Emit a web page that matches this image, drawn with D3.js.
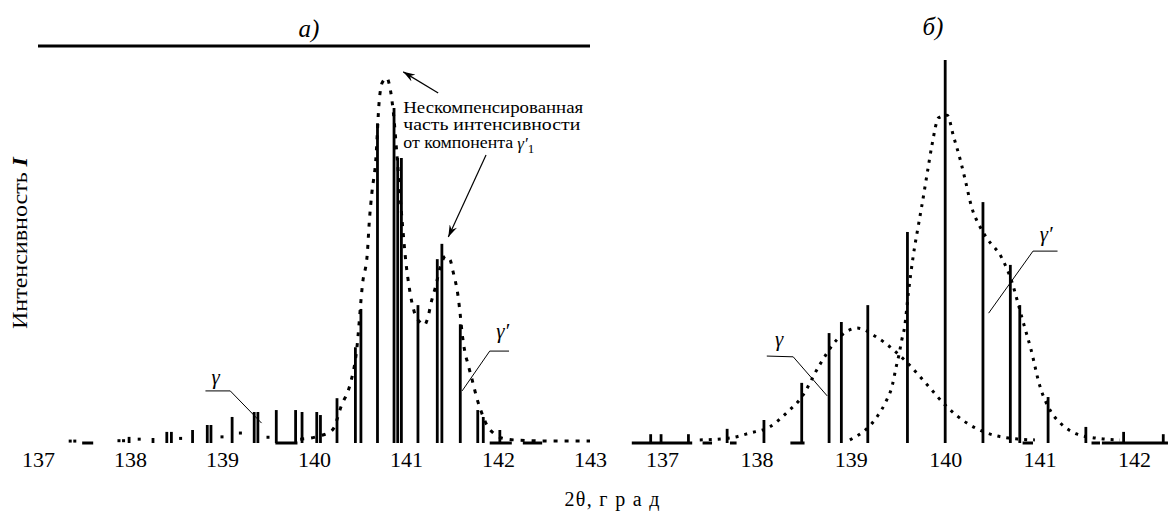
<!DOCTYPE html>
<html>
<head>
<meta charset="utf-8">
<script src="https://cdn.jsdelivr.net/npm/d3@7"></script>
<style>
  body { margin: 0; background: #fff; }
</style>
</head>
<body>
<div id="chart"></div>
<script>
// X-ray profile, two panels: a) and б)

// tick labels
var leftTicks = [137, 138, 139, 140, 141, 142, 143];
var rightTicks = [137, 138, 139, 140, 141, 142];

// panel a) - stick lines [2theta, intensity]
var leftBars = [
  [137.99, 1.6], [138.25, 1.3], [138.40, 2.9], [138.45, 2.9], [138.68, 3.4],
  [138.84, 4.7], [138.88, 4.7], [139.11, 6.8], [139.35, 8.1], [139.39, 8.1],
  [139.59, 8.6], [139.80, 8.6], [139.87, 8.1], [140.03, 8.1], [140.07, 7.3],
  [140.25, 11.7], [140.45, 25], [140.51, 35], [140.69, 83.5], [140.87, 87.5],
  [140.91, 74.4], [140.95, 74.4], [141.13, 36], [141.34, 48], [141.39, 52],
  [141.59, 31], [141.78, 8.6], [141.84, 6.8], [142.02, 3.4]
];

// panel a) - dotted envelope
var leftCurve = [
  [139.85, 1.0],
  [140.02, 1.6], [140.20, 3.4], [140.30, 9.9], [140.39, 15.1], [140.46, 23.5],
  [140.53, 42.0], [140.58, 49.6], [140.60, 57.4], [140.63, 65.5], [140.67, 73.4],
  [140.71, 89.6], [140.74, 94.0], [140.79, 95.3], [140.83, 92.2], [140.86, 86.9],
  [140.91, 72.6], [140.96, 57.4], [141.00, 47.0], [141.04, 39.9], [141.09, 34.2],
  [141.15, 31.6], [141.20, 30.8], [141.23, 32.1], [141.28, 37.3], [141.32, 40.7],
  [141.37, 45.7], [141.43, 48.8], [141.48, 47.8], [141.51, 44.9], [141.57, 37.6],
  [141.59, 33.4], [141.61, 28.7], [141.64, 23.8], [141.67, 20.9], [141.72, 16.4],
  [141.77, 11.7], [141.84, 6.8], [141.89, 4.2], [141.95, 2.6], [142.04, 1.3],
  [142.18, 0.8], [142.60, 0.5], [143.00, 0.5]
];

// panel a) - scattered dots of the low tail [2theta, intensity]
var leftTail = [
  [137.35, 0.5], [137.40, 0.5], [137.88, 0.6], [137.93, 0.6], [138.10, 1.0],
  [138.55, 1.2], [139.00, 1.6], [139.20, 2.6], [139.50, 1.5]
];

// panel a) - baseline pieces [from, to]
var leftBase = [[137.48, 137.60], [139.58, 139.82], [141.91, 142.15], [142.27, 142.48]];

// panel б) - stick lines
var rightBars = [
  [136.88, 2.3], [136.99, 2.3], [137.28, 2.3], [137.69, 3.7], [138.08, 6.0],
  [138.48, 15.7], [138.77, 28.7], [138.90, 31.6], [139.18, 36.0], [139.60, 55.1],
  [140.00, 100], [140.40, 62.9], [140.69, 46.5], [140.79, 36.0], [141.09, 12.0],
  [141.49, 4.2], [141.89, 2.9], [142.31, 2.3]
];

// panel б) - gamma component
var rightGamma = [
  [137.40, 0.8], [137.72, 1.3], [137.93, 2.6], [138.14, 4.2], [138.33, 8.1],
  [138.48, 12.0], [138.67, 20.4], [138.85, 26.9], [139.07, 30.0], [139.27, 27.7],
  [139.43, 24.8], [139.60, 20.9], [139.83, 14.6], [140.02, 9.4], [140.23, 5.2],
  [140.41, 2.9], [140.67, 1.3], [140.95, 0.8]
];

// panel б) - gamma' component
var rightGammaP = [
  [138.99, 0.8], [139.29, 7.3], [139.37, 10.7], [139.44, 15.1], [139.48, 19.8],
  [139.51, 23.0], [139.54, 26.9], [139.57, 30.3], [139.61, 39.2], [139.66, 48.6],
  [139.72, 57.4], [139.75, 61.6], [139.81, 70.5], [139.86, 77.8], [139.93, 84.9],
  [140.02, 85.6], [140.09, 79.9], [140.16, 73.9], [140.21, 68.9], [140.28, 61.6],
  [140.37, 56.4], [140.44, 53.5], [140.60, 48.3], [140.71, 41.8], [140.77, 36.6],
  [140.82, 32.1], [140.91, 24.3], [141.00, 15.1], [141.11, 8.6], [141.22, 5.2],
  [141.40, 2.3], [141.59, 1.3], [141.85, 0.8]
];

var rightBase = [
  [136.68, 137.32], [137.43, 137.53], [137.72, 137.79], [138.36, 138.51],
  [140.82, 140.93], [141.55, 141.64], [141.66, 142.36]
];


var W = 1168, H = 513;
var serif = "'Liberation Serif'";

var svg = d3.select('#chart')
  .append('svg')
  .attr('width', W)
  .attr('height', H);

var y = d3.scaleLinear().domain([0, 100]).range([443, 60]);
var xL = d3.scaleLinear().domain([137, 143]).range([38, 590]);
var xR = d3.scaleLinear().domain([137, 142]).range([662, 1134]);

svg.append('defs').append('marker')
  .attr('id', 'arr')
  .attr('viewBox', '0 0 12 8')
  .attr('refX', 12)
  .attr('refY', 4)
  .attr('markerWidth', 12)
  .attr('markerHeight', 8)
  .attr('markerUnits', 'userSpaceOnUse')
  .attr('orient', 'auto')
  .append('path')
  .attr('d', 'M0,0 L12,4 L0,8 L4,4 Z')
  .attr('fill', '#000');


function drawPanel(x, ticks, bars, curves, base, dash) {
  var g = svg.append('g');

  // baseline pieces
  g.selectAll('.base')
    .data(base)
    .enter()
    .append('line')
    .attr('x1', function (d) { return x(d[0]); })
    .attr('x2', function (d) { return x(d[1]); })
    .attr('y1', y(0))
    .attr('y2', y(0))
    .attr('stroke', '#000')
    .attr('stroke-width', 3);

  // dotted curves
  var line = d3.line()
    .x(function (d) { return x(d[0]); })
    .y(function (d) { return y(d[1]); })
    .curve(d3.curveMonotoneX);

  curves.forEach(function (c) {
    g.append('path')
      .attr('d', line(c))
      .attr('fill', 'none')
      .attr('stroke', '#000')
      .attr('stroke-width', 3)
      .attr('stroke-dasharray', dash);
  });

  // sticks
  g.selectAll('.bar')
    .data(bars)
    .enter()
    .append('line')
    .attr('x1', function (d) { return x(d[0]); })
    .attr('x2', function (d) { return x(d[0]); })
    .attr('y1', y(0))
    .attr('y2', function (d) { return y(d[1]); })
    .attr('stroke', '#000')
    .attr('stroke-width', 2.8);

  // tick labels
  var ax = g.append('g')
    .attr('transform', 'translate(0,' + y(0) + ')')
    .call(d3.axisBottom(x).tickValues(ticks).tickSize(0).tickPadding(8).tickFormat(d3.format('d')));
  ax.attr('font-family', serif);
  ax.select('.domain').remove();
  ax.selectAll('text')
    .style('font-size', '22px')
    .attr('fill', '#000');

  return g;
}

drawPanel(xL, leftTicks, leftBars, [leftCurve], leftBase, '4,7');
drawPanel(xR, rightTicks, rightBars, [rightGamma, rightGammaP], rightBase, '3,6');

// sparse tail dots of panel a)
svg.selectAll('.tail')
  .data(leftTail)
  .enter()
  .append('rect')
  .attr('x', function (d) { return xL(d[0]) - 1.5; })
  .attr('y', function (d) { return y(d[1]) - 1.5; })
  .attr('width', 3)
  .attr('height', 3)
  .attr('fill', '#000');


// leader lines for labels
function leader(x, pts, label, lx, ly) {
  var l = d3.line()
    .x(function (d) { return x(d[0]); })
    .y(function (d) { return y(d[1]); });
  svg.append('path')
    .attr('d', l(pts))
    .attr('fill', 'none')
    .attr('stroke', '#000')
    .attr('stroke-width', 1);
  svg.append('text')
    .attr('x', x(lx))
    .attr('y', y(ly))
    .attr('text-anchor', 'middle')
    .style('font-size', '21px')
    .style('font-style', 'italic')
    .text(label);
}

leader(xL, [[138.82, 13.6], [139.09, 13.6], [139.43, 5.2]], 'γ', 138.93, 15.5);
leader(xL, [[142.12, 24.0], [141.91, 24.0], [141.61, 13.6]], 'γ′', 142.05, 27.5);
leader(xR, [[138.11, 22.7], [138.39, 22.5], [138.75, 12.3]], 'γ', 138.24, 25.3);
leader(xR, [[141.19, 50.1], [140.93, 50.1], [140.46, 33.9]], 'γ′', 141.07, 52.8);


// arrows and note in panel a)
svg.append('line')
  .attr('x1', xL(141.35)).attr('y1', y(91.4))
  .attr('x2', xL(140.97)).attr('y2', y(96.9))
  .attr('stroke', '#000').attr('stroke-width', 1.2)
  .attr('marker-end', 'url(#arr)');

svg.append('line')
  .attr('x1', xL(141.87)).attr('y1', y(75.2))
  .attr('x2', xL(141.46)).attr('y2', y(53.8))
  .attr('stroke', '#000').attr('stroke-width', 1.2)
  .attr('marker-end', 'url(#arr)');

var nx = xL(140.97);
svg.append('text')
  .attr('x', nx).attr('y', 113)
  .attr('textLength', 180).attr('lengthAdjust', 'spacingAndGlyphs')
  .style('font-size', '17px')
  .text('Нескомпенсированная');
svg.append('text')
  .attr('x', nx).attr('y', 130)
  .attr('textLength', 177).attr('lengthAdjust', 'spacingAndGlyphs')
  .style('font-size', '17px')
  .text('часть интенсивности');
svg.append('text')
  .attr('x', nx).attr('y', 148)
  .attr('textLength', 110).attr('lengthAdjust', 'spacingAndGlyphs')
  .style('font-size', '17px')
  .text('от компонента');
var gp = svg.append('text')
  .attr('x', nx + 114).attr('y', 149)
  .style('font-size', '17px').style('font-style', 'italic');
gp.append('tspan').text('γ′');
gp.append('tspan').attr('dy', 4).style('font-size', '13px').style('font-style', 'normal').text('1');


// titles and frame pieces
svg.append('line')
  .attr('x1', xL(137)).attr('x2', xL(143))
  .attr('y1', 46).attr('y2', 46)
  .attr('stroke', '#000').attr('stroke-width', 3);

svg.append('text')
  .attr('x', 309).attr('y', 37)
  .attr('text-anchor', 'middle')
  .style('font-size', '25px').style('font-style', 'italic')
  .text('а)');

svg.append('text')
  .attr('x', 933).attr('y', 35)
  .attr('text-anchor', 'middle')
  .style('font-size', '25px').style('font-style', 'italic')
  .text('б)');

var yl = svg.append('text')
  .attr('transform', 'translate(27,243) rotate(-90)')
  .attr('text-anchor', 'middle')
  .attr('textLength', 172).attr('lengthAdjust', 'spacingAndGlyphs')
  .style('font-size', '20px');
yl.append('tspan').text('Интенсивность ');
yl.append('tspan').style('font-style', 'italic').style('font-weight', 'bold').text('I');

svg.append('text')
  .attr('x', 612).attr('y', 506)
  .attr('text-anchor', 'middle')
  .attr('textLength', 95).attr('lengthAdjust', 'spacing')
  .style('font-size', '20px')
  .text('2θ, г р а д');

// one font for every text
svg.selectAll('text').style('font-family', serif);
</script>
</body>
</html>
